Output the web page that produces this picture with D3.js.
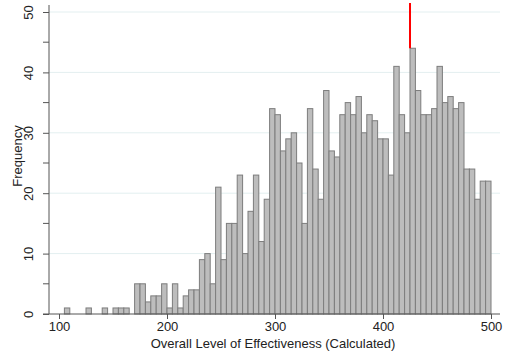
<!DOCTYPE html>
<html>
<head>
<meta charset="utf-8">
<script src="https://cdn.jsdelivr.net/npm/d3@7"></script>
<style>
  body { margin: 0; background: #fff; }
  text { font-family: "Liberation Sans", Arial, sans-serif; }
</style>
</head>
<body>
<div id="vis-container"></div>
<script>
// histogram bins, width 5, first bin starts at 105
var binStart = 105;
var binWidth = 5;
var counts = [
  1, 0, 0, 0, 1, 0, 0, 1, 0, 1,
  1, 1, 0, 5, 5, 2, 3, 3, 5, 1,
  5, 1, 3, 4, 4, 9, 10, 5, 21, 9,
  15, 15, 23, 10, 17, 23, 12, 19, 34, 33,
  27, 29, 30, 25, 15, 34, 24, 19, 37, 27,
  26, 33, 35, 33, 36, 30, 33, 32, 29, 29,
  23, 41, 33, 30, 44, 37, 33, 33, 34, 41,
  35, 36, 34, 35, 24, 24, 19, 22, 22
];
var xTicks = [100, 200, 300, 400, 500];
var yTicks = [0, 10, 20, 30, 40, 50];
var yMinor = [5, 15, 25, 35, 45];
var markerValue = 425; // red reference line

var width = 510, height = 357;

var svg = d3.select("#vis-container").append("svg")
  .attr("width", width)
  .attr("height", height);

var x = d3.scaleLinear().domain([100, 500]).range([59, 491]);
var y = d3.scaleLinear().domain([0, 50]).range([314, 12]);

// gridlines
svg.selectAll(".grid")
  .data(yTicks.slice(1))
  .enter().append("line")
  .attr("x1", 49).attr("x2", 500)
  .attr("y1", function (d) { return y(d); })
  .attr("y2", function (d) { return y(d); })
  .attr("stroke", "#e3eff0")
  .attr("stroke-width", 1);

// bars
var bins = counts.map(function (c, i) {
  return { x0: binStart + i * binWidth, x1: binStart + (i + 1) * binWidth, n: c };
});

svg.selectAll(".bar")
  .data(bins.filter(function (d) { return d.n > 0; }))
  .enter().append("rect")
  .attr("x", function (d) { return x(d.x0); })
  .attr("width", function (d) { return x(d.x1) - x(d.x0); })
  .attr("y", function (d) { return y(d.n); })
  .attr("height", function (d) { return y(0) - y(d.n); })
  .attr("fill", "#bdbdbd")
  .attr("stroke", "#7d7d7d")
  .attr("stroke-width", 1);

// red line at the peak
var peak = bins.find(function (d) { return d.x0 === markerValue; });
svg.append("line")
  .attr("x1", x(markerValue)).attr("x2", x(markerValue))
  .attr("y1", 3).attr("y2", y(peak.n))
  .attr("stroke", "#ff0000")
  .attr("stroke-width", 2);

// x axis
var xAxis = d3.axisBottom(x).tickValues(xTicks).tickSize(5).tickSizeOuter(0);
var gx = svg.append("g").attr("transform", "translate(0," + y(0) + ")").call(xAxis);
gx.select(".domain").remove();
gx.append("line").attr("x1", 43).attr("x2", 500).attr("stroke", "#555");
gx.selectAll(".tick line").attr("stroke", "#555");
gx.selectAll(".tick text").attr("fill", "#222").style("font-size", "13px").attr("dy", "0.71em");

// y axis
var yAxis = d3.axisLeft(y).tickValues(yTicks).tickSize(6).tickFormat(d3.format("d"));
var gy = svg.append("g").attr("transform", "translate(49,0)").call(yAxis);
gy.select(".domain").remove();
gy.append("line").attr("y1", 5).attr("y2", y(0)).attr("stroke", "#555");
gy.selectAll(".tick line").attr("stroke", "#555");
gy.selectAll(".tick text")
  .attr("fill", "#222")
  .style("font-size", "13px")
  .attr("text-anchor", "middle")
  .attr("transform", "translate(-16,0) rotate(-90)")
  .attr("x", 0).attr("dy", "0");

gy.selectAll(".minor")
  .data(yMinor)
  .enter().append("line")
  .attr("x1", -6).attr("x2", 0)
  .attr("y1", function (d) { return y(d); })
  .attr("y2", function (d) { return y(d); })
  .attr("stroke", "#555");

// labels
svg.append("text")
  .attr("x", 273).attr("y", 348)
  .attr("text-anchor", "middle")
  .attr("fill", "#222")
  .style("font-size", "13px")
  .text("Overall Level of Effectiveness (Calculated)");

svg.append("text")
  .attr("transform", "translate(22,156) rotate(-90)")
  .attr("text-anchor", "middle")
  .attr("fill", "#222")
  .style("font-size", "13px")
  .text("Frequency");
</script>
</body>
</html>
